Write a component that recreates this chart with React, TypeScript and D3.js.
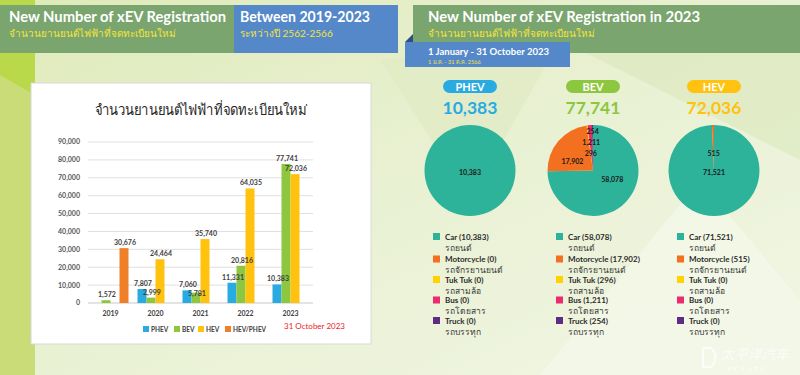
import React from 'react';
import * as d3 from 'd3';

// bar chart data (2019-2023)
const years = ['2019', '2020', '2021', '2022', '2023'];
const barSeries = ['PHEV', 'BEV', 'HEV', 'HEV/PHEV'];
const phevByYear = [null, 7807, 7060, 11331, 10383];
const bevByYear = [1572, 2999, 5781, 20816, 77741];
const hevByYear = [null, 24464, 35740, 64035, 72036];
const hevPhevByYear = [30676, null, null, null, null];
const yTicks = [0, 10000, 20000, 30000, 40000, 50000, 60000, 70000, 80000, 90000];

// pie data (2023, by vehicle type)
const pieGroups = ['PHEV', 'BEV', 'HEV'];
const vehicleTypes = ['Car', 'Motorcycle', 'Tuk Tuk', 'Bus', 'Truck'];
const vehicleTypesThai = ['รถยนต์', 'รถจักรยานยนต์', 'รถสามล้อ', 'รถโดยสาร', 'รถบรรทุก'];
const phevByType = [10383, 0, 0, 0, 0];
const bevByType = [58078, 17902, 296, 1211, 254];
const hevByType = [71521, 515, 0, 0, 0];

const seriesColors = ['#29abe2', '#8dc63f', '#ffc20e', '#f07f2a'];
const groupColors = ['#29abe2', '#8dc63f', '#ffc20e'];
const typeColors = ['#2db39a', '#f37021', '#ffd200', '#ec2a6e', '#5c2d82'];

const FONT = 'Lato, "Noto Sans", "DejaVu Sans", sans-serif';
const fmt = d3.format(',');

function BarChart() {
  const seriesValues = [phevByYear, bevByYear, hevByYear, hevPhevByYear];
  const x = d3.scaleBand().domain(years).range([88, 313]).paddingInner(0.2).paddingOuter(0.1);
  const xs = d3.scaleBand().domain(barSeries).range([0, x.bandwidth()]);
  const y = d3.scaleLinear().domain([0, 90000]).range([303, 142]);
  const legendX = [143, 174, 198, 225];

  // bar + label positions per year; labels nudged down when they would collide
  const bars = years.flatMap((yr, i) => {
    let prevBase: number | null = null;
    return barSeries.flatMap((s, j) => {
      const v = seriesValues[j][i];
      if (v == null) return [];
      let base = y(v) - 3;
      if (prevBase != null && Math.abs(base - prevBase) < 8.5) base = prevBase + 8.5;
      prevBase = base;
      return [{ key: `${yr}-${s}`, x0: x(yr)! + xs(s)!, v, j, base }];
    });
  });

  return (
    <g>
      <rect x={31} y={83} width={340} height={261} fill="#fff" stroke="#d8d8d8" strokeWidth={1} />
      <text x={201} y={115} textAnchor="middle" fontSize={14.5} fill="#262626" fontFamily={FONT}
        textLength={213} lengthAdjust="spacingAndGlyphs">
        จำนวนยานยนต์ไฟฟ้าที่จดทะเบียนใหม่
      </text>
      {yTicks.map(t => (
        <g key={t}>
          <line x1={88} x2={313} y1={y(t)} y2={y(t)} stroke={t === 0 ? '#c8c8c8' : '#e0e0e0'} strokeWidth={1} />
          <text x={80} y={y(t)} dy="0.35em" textAnchor="end" fontSize={7} fontWeight="bold" fill="#595959" fontFamily={FONT}>
            {fmt(t)}
          </text>
        </g>
      ))}
      {bars.map(b => (
        <rect key={b.key} x={b.x0} y={y(b.v)} width={xs.bandwidth()} height={y(0) - y(b.v)} fill={seriesColors[b.j]} />
      ))}
      {bars.map(b => (
        <text key={b.key} x={b.x0 + xs.bandwidth() / 2 + 1} y={b.base} textAnchor="middle" fontSize={7}
          fontWeight="bold" fill="#404040" fontFamily={FONT}>
          {fmt(b.v)}
        </text>
      ))}
      {years.map(yr => (
        <text key={yr} x={x(yr)! + x.bandwidth() / 2} y={316} textAnchor="middle" fontSize={7} fontWeight="bold"
          fill="#404040" fontFamily={FONT}>
          {yr}
        </text>
      ))}
      {barSeries.map((s, j) => (
        <g key={s}>
          <rect x={legendX[j]} y={326} width={6} height={6} fill={seriesColors[j]} />
          <text x={legendX[j] + 8} y={332} fontSize={6.5} fontWeight="bold" fill="#404040" fontFamily={FONT}>{s}</text>
        </g>
      ))}
      <text x={284} y={329} fontSize={8} fill="#ed1c24" fontFamily={FONT}>31 October 2023</text>
    </g>
  );
}

function PieBlock({ idx, values, cx }: { idx: number; values: number[]; cx: number }) {
  const r = 45.5;
  const cy = 170.5;
  const total = d3.sum(values);
  const arcs = d3.pie<number>().sort(null).value(d => d)(values);
  const arc = d3.arc<d3.PieArcDatum<number>>().innerRadius(0).outerRadius(r);
  let small = 0;
  const labels = arcs.map(a => {
    if (a.value === 0) return null;
    const frac = a.value / total;
    const mid = (a.startAngle + a.endAngle) / 2;
    let p: [number, number];
    if (frac > 0.95) p = [0, 2];
    else if (frac < 0.03) {
      const rr = 17 + 11 * small++;
      p = [rr * Math.sin(mid), -rr * Math.cos(mid)];
    } else p = [27 * Math.sin(mid), -13.5 * Math.cos(mid)];
    return { p, v: a.value };
  });
  const lx = cx - 37;
  return (
    <g>
      <rect x={cx - 27} y={80} width={54} height={13} rx={6.5} fill={groupColors[idx]} />
      <text x={cx} y={90.5} textAnchor="middle" fontSize={11} fontWeight="bold" fill="#fff" fontFamily={FONT}>
        {pieGroups[idx]}
      </text>
      <text x={cx} y={114} textAnchor="middle" fontSize={17.5} fontWeight="bold" fill={groupColors[idx]} fontFamily={FONT}>
        {fmt(total)}
      </text>
      <g transform={`translate(${cx},${cy})`}>
        {arcs.map((a, i) => (a.value > 0 ? <path key={i} d={arc(a)!} fill={typeColors[i]} /> : null))}
        {labels.map((l, i) =>
          l ? (
            <text key={i} x={l.p[0]} y={l.p[1]} dy="0.35em" textAnchor="middle" fontSize={7} fontWeight="bold"
              fill="#1a1a1a" fontFamily={FONT}>
              {fmt(l.v)}
            </text>
          ) : null
        )}
      </g>
      {vehicleTypes.map((t, i) => {
        const yy = 237 + i * 20.5 + (i > 0 ? 2 : 0);
        return (
          <g key={t}>
            <rect x={lx} y={yy - 4} width={7} height={7} fill={typeColors[i]} />
            <text x={lx + 12} y={yy + 2.5} fontSize={8} fontWeight="bold" fill="#2b2b2b" fontFamily={FONT}>
              {`${t} (${fmt(values[i])})`}
            </text>
            <text x={lx + 12} y={yy + 13.5} fontSize={8.5} fill="#3a3a3a" fontFamily={FONT}>
              {vehicleTypesThai[i]}
            </text>
          </g>
        );
      })}
    </g>
  );
}

export default function App() {
  const pieValues = [phevByType, bevByType, hevByType];
  const pieX = [470, 593, 714];
  return (
    <svg width={800} height={375} style={{ position: 'absolute', left: 0, top: 0 }}>
      <defs>
        <linearGradient id="bg" x1="0" y1="0" x2="1" y2="1">
          <stop offset="0" stopColor="#dfeab9" />
          <stop offset="0.5" stopColor="#e9f1d3" />
          <stop offset="1" stopColor="#f1f6e4" />
        </linearGradient>
      </defs>
      <rect width={800} height={375} fill="url(#bg)" />
      <polygon points="380,60 560,40 470,200" fill="#dfeac2" opacity={0.6} />
      <polygon points="560,40 800,30 800,160" fill="#dbe8bd" opacity={0.6} />
      <polygon points="540,375 700,180 800,300 800,375" fill="#f3f7e8" opacity={0.8} />
      <polygon points="0,0 35,0 35,375 0,375" fill="#c9dc78" />
      <polygon points="0,0 35,0 35,95 0,75" fill="#b9d94a" />
      <rect x={0} y={5} width={234} height={48} fill="#7aa56f" />
      <rect x={234} y={5} width={164} height={48} fill="#5588c9" />
      <rect x={413} y={5} width={387} height={48} fill="#7aa56f" />
      <polygon points="405,42 413,34 413,42" fill="#2a4f80" />
      <rect x={405} y={42} width={165} height={25} fill="#5588c9" />

      <text x={9} y={22} fontSize={14.5} fontWeight="bold" fill="#fff" fontFamily={FONT}
        textLength={217} lengthAdjust="spacingAndGlyphs">New Number of xEV Registration</text>
      <text x={9} y={37} fontSize={10} fill="#f3e43a" fontFamily={FONT}>จำนวนยานยนต์ไฟฟ้าที่จดทะเบียนใหม่</text>
      <text x={240} y={22} fontSize={14.5} fontWeight="bold" fill="#fff" fontFamily={FONT}
        textLength={130} lengthAdjust="spacingAndGlyphs">Between 2019-2023</text>
      <text x={240} y={37} fontSize={10} fill="#f3e43a" fontFamily={FONT}>ระหว่างปี 2562-2566</text>
      <text x={428} y={22} fontSize={14.5} fontWeight="bold" fill="#fff" fontFamily={FONT}
        textLength={272} lengthAdjust="spacingAndGlyphs">New Number of xEV Registration in 2023</text>
      <text x={428} y={37} fontSize={10} fill="#f3e43a" fontFamily={FONT}>จำนวนยานยนต์ไฟฟ้าที่จดทะเบียนใหม่</text>
      <text x={428} y={55} fontSize={9.5} fontWeight="bold" fill="#fff" fontFamily={FONT}>1 January - 31 October 2023</text>
      <text x={428} y={63.5} fontSize={5.5} fill="#f3e43a" fontFamily={FONT}>1 ม.ค. - 31 ต.ค. 2566</text>

      <BarChart />
      {pieGroups.map((g, i) => (
        <PieBlock key={g} idx={i} values={pieValues[i]} cx={pieX[i]} />
      ))}

      <g opacity={0.75}>
        <text x={721} y={359} fontSize={13.5} fontStyle="italic" fill="#ffffff"
          fontFamily='"Noto Sans CJK SC", sans-serif'>太平洋汽车</text>
        <text x={728} y={371} fontSize={6} fontWeight="bold" fill="#ffffff" fontFamily={FONT}
          letterSpacing={2.5}>PCAUTO</text>
        <path d="M703,348 L711,348 Q720,357 711,367 L703,367 Z" fill="none" stroke="#ffffff" strokeWidth={2} />
      </g>
    </svg>
  );
}
